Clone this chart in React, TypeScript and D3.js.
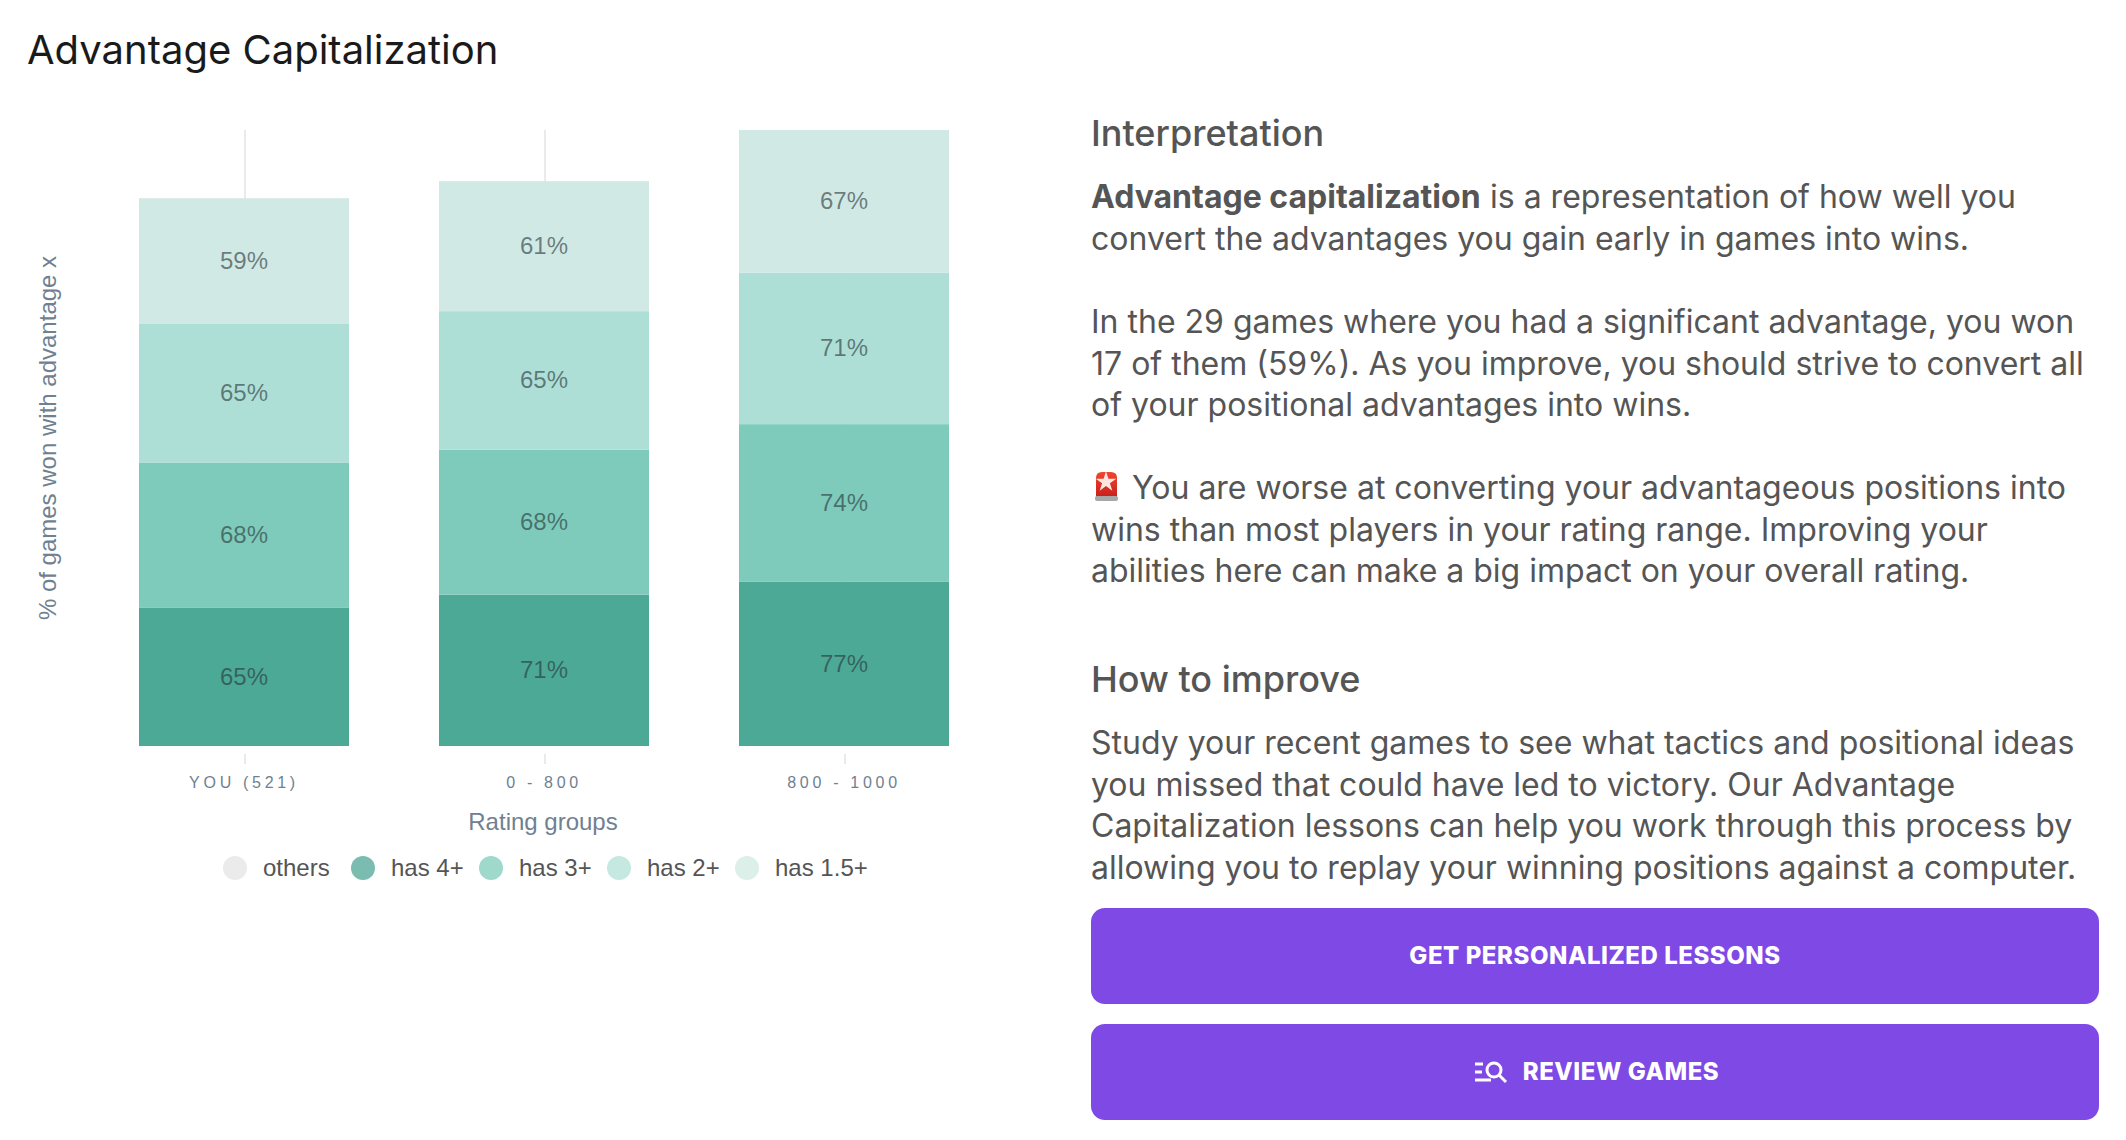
import * as d3 from 'd3';
import { useEffect, useRef } from 'react';

const ratingGroups = ['YOU (521)', '0 - 800', '800 - 1000'];
const has4 = [65, 71, 77];
const has3 = [68, 68, 74];
const has2 = [65, 65, 71];
const has15 = [59, 61, 67];
const seriesKeys = ['has 4+', 'has 3+', 'has 2+', 'has 1.5+'];
const seriesValues = [has4, has3, has2, has15];
const barColors = ['#4ca996', '#7ecbbb', '#aedfd7', '#d1e9e4'];
const legendLabels = ['others', 'has 4+', 'has 3+', 'has 2+', 'has 1.5+'];
const legendColors = ['#ebebeb', '#7abdb0', '#9fd9cb', '#c5e8e0', '#dcefe9'];

const paragraphs = [
  { y: 208, lines: ['is a representation of how well you', 'convert the advantages you gain early in games into wins.'] },
  {
    y: 333,
    lines: [
      'In the 29 games where you had a significant advantage, you won',
      '17 of them (59%). As you improve, you should strive to convert all',
      'of your positional advantages into wins.',
    ],
  },
  {
    y: 499,
    lines: [
      'You are worse at converting your advantageous positions into',
      'wins than most players in your rating range. Improving your',
      'abilities here can make a big impact on your overall rating.',
    ],
  },
  {
    y: 754,
    lines: [
      'Study your recent games to see what tactics and positional ideas',
      'you missed that could have led to victory. Our Advantage',
      'Capitalization lessons can help you work through this process by',
      'allowing you to replay your winning positions against a computer.',
    ],
  },
];

const SANS = '"Liberation Sans", Arial, sans-serif';
const INTER = 'Inter, sans-serif';

export default function App() {
  const ref = useRef<SVGSVGElement>(null);

  useEffect(() => {
    const svg = d3.select(ref.current);
    svg.selectAll('*').remove();

    const stackRows = ratingGroups.map((group, i) => {
      const row: Record<string, any> = { group };
      seriesKeys.forEach((key, k) => {
        row[key] = seriesValues[k][i];
      });
      return row;
    });
    const stacked = d3.stack().keys(seriesKeys)(stackRows as any);

    const x = d3.scaleBand().domain(ratingGroups).range([94, 994]).paddingInner(0).paddingOuter(0);
    const y = d3.scaleLinear().domain([0, 289]).range([746, 130]);
    const barWidth = 210;
    const cx = (g: string) => (x(g) || 0) + x.bandwidth() / 2;

    svg.append('text')
      .attr('x', 27).attr('y', 64)
      .style('font-family', INTER).style('font-size', '40px').style('fill', '#1a1a1a')
      .text('Advantage Capitalization');

    // gridlines behind the bars
    svg.append('g').selectAll('line').data(ratingGroups).enter().append('line')
      .attr('x1', (d) => cx(d) + 1).attr('x2', (d) => cx(d) + 1)
      .attr('y1', y(289)).attr('y2', y(0))
      .attr('stroke', '#e3e3e3').attr('stroke-width', 1.5);

    const layers = svg.append('g').selectAll('g').data(stacked).enter().append('g')
      .attr('fill', (_, i) => barColors[i]);
    layers.selectAll('rect').data((d) => d).enter().append('rect')
      .attr('x', (d: any) => cx(d.data.group) - barWidth / 2)
      .attr('width', barWidth)
      .attr('y', (d) => y(d[1]))
      .attr('height', (d) => y(d[0]) - y(d[1]));
    layers.selectAll('text').data((d) => d).enter().append('text')
      .attr('x', (d: any) => cx(d.data.group))
      .attr('y', (d) => (y(d[0]) + y(d[1])) / 2 + 8)
      .attr('text-anchor', 'middle')
      .style('font-family', SANS).style('font-size', '24px')
      .style('fill', '#263238').style('fill-opacity', 0.6)
      .text((d) => `${d[1] - d[0]}%`);

    const axis = svg.append('g').attr('transform', 'translate(0,754)')
      .call(d3.axisBottom(x).tickSize(10).tickPadding(13));
    axis.select('.domain').remove();
    axis.selectAll('line').attr('stroke', '#e3e3e3').attr('stroke-width', 1.5).attr('transform', 'translate(1,0)');
    axis.selectAll('text')
      .style('font-family', SANS).style('font-size', '16px')
      .style('letter-spacing', '3.7px').style('fill', '#6f8191');

    svg.append('text')
      .attr('x', 543).attr('y', 830).attr('text-anchor', 'middle')
      .style('font-family', SANS).style('font-size', '24px').style('fill', '#6f8191')
      .text('Rating groups');

    svg.append('text')
      .attr('transform', 'translate(56,438) rotate(-90)').attr('text-anchor', 'middle')
      .style('font-family', SANS).style('font-size', '24px').style('fill', '#6f8191')
      .text('% of games won with advantage x');

    const legendX = [235, 363, 491, 619, 747];
    const legend = svg.append('g').selectAll('g').data(legendLabels).enter().append('g')
      .attr('transform', (_, i) => `translate(${legendX[i]},868)`);
    legend.append('circle').attr('r', 12).attr('fill', (_, i) => legendColors[i]);
    legend.append('text')
      .attr('x', 28).attr('y', 7.5)
      .style('font-family', SANS).style('font-size', '24px').style('fill', '#555')
      .text((d) => d);

    // right hand column
    const col = svg.append('g').style('font-family', INTER).style('fill', '#555');
    const headings = [['Interpretation', 146], ['How to improve', 692]] as const;
    col.selectAll('text.heading').data(headings).enter().append('text')
      .attr('class', 'heading')
      .attr('x', 1091).attr('y', (d) => d[1])
      .style('font-size', '36px').style('font-weight', 500)
      .text((d) => d[0]);

    col.append('text')
      .attr('x', 1091).attr('y', 208)
      .style('font-size', '32px').style('font-weight', 700)
      .text('Advantage capitalization');

    paragraphs.forEach((p, pi) => {
      p.lines.forEach((line, li) => {
        const indent = (pi === 0 || pi === 2) && li === 0 ? (pi === 0 ? 399 : 41) : 0;
        col.append('text')
          .attr('x', 1091 + indent).attr('y', p.y + li * 41.5)
          .style('font-size', '32px')
          .text(line);
      });
    });

    // siren glyph
    const defs = svg.append('defs');
    const grad = defs.append('linearGradient').attr('id', 'siren-red').attr('x1', 0).attr('x2', 0).attr('y1', 0).attr('y2', 1);
    grad.append('stop').attr('offset', '0%').attr('stop-color', '#f0452f');
    grad.append('stop').attr('offset', '100%').attr('stop-color', '#c8201c');
    const siren = svg.append('g').attr('transform', 'translate(1095,472)');
    siren.append('path').attr('d', 'M1 25V6Q1 0 7 0H16Q22 0 22 6V25Z').attr('fill', 'url(#siren-red)');
    siren.append('path')
      .attr('d', d3.symbol().type(d3.symbolStar).size(130)() as string)
      .attr('transform', 'translate(11,10)').attr('fill', '#ffe5e0');
    siren.append('rect').attr('x', 0).attr('y', 24).attr('width', 23).attr('height', 5).attr('rx', 2).attr('fill', '#a8a8a8');

    // buttons
    const buttons = [['GET PERSONALIZED LESSONS', 908], ['REVIEW GAMES', 1024]] as const;
    const btn = svg.append('g').selectAll('g').data(buttons).enter().append('g')
      .attr('transform', (d) => `translate(1091,${d[1]})`);
    btn.append('rect').attr('width', 1008).attr('height', 96).attr('rx', 14).attr('fill', '#7f49e5');
    btn.append('text')
      .attr('x', (_, i) => (i === 0 ? 504 : 530)).attr('y', 56).attr('text-anchor', 'middle')
      .style('font-family', INTER).style('font-size', '24px').style('font-weight', 800)
      .style('letter-spacing', '0.55px').style('fill', '#fff')
      .text((d) => d[0]);

    const icon = svg.append('g').attr('transform', 'translate(1475,1062)')
      .attr('fill', 'none').attr('stroke', '#fff').attr('stroke-width', 3);
    icon.append('path').attr('d', 'M0 2H8M0 10H7M0 18H16');
    icon.append('circle').attr('cx', 19).attr('cy', 8).attr('r', 7);
    icon.append('path').attr('d', 'M24 13L31 20');
  }, []);

  return <svg ref={ref} width={2126} height={1140} style={{ position: 'absolute', left: 0, top: 0, background: '#fff' }} />;
}
